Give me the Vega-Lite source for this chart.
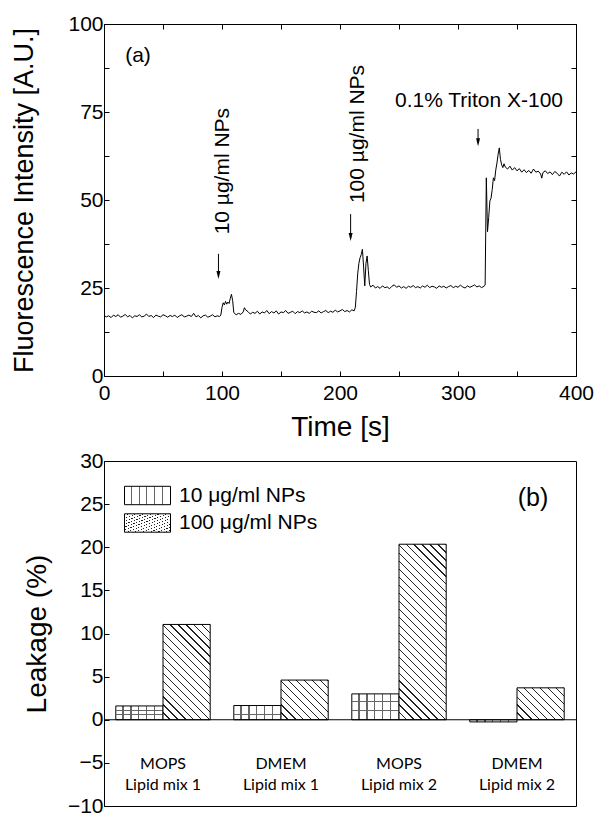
{
  "$schema": "https://vega.github.io/schema/vega-lite/v6.json",
  "background": "white",
  "padding": {"left": 10, "top": 12, "right": 10, "bottom": 10},
  "config": {
    "view": {"stroke": "black", "strokeWidth": 1},
    "font": "Liberation Sans",
    "axis": {"labelFont": "Liberation Sans", "labelFontSize": 21, "labelColor": "black", "titleFont": "Liberation Sans", "titleFontWeight": "normal", "titleColor": "black", "domainColor": "black", "tickColor": "black", "grid": false, "tickSize": -5},
    "legend": {"title": null, "orient": "none", "symbolType": "M-1,-0.4H1V0.4H-1Z", "symbolSize": 2116, "symbolStrokeWidth": 1, "symbolStrokeColor": "black", "symbolOpacity": 1, "labelFont": "Liberation Sans", "labelFontSize": 21, "labelColor": "black", "labelOffset": 8, "labelLimit": 300}
  },
  "resolve": {"legend": {"stroke": "independent"}},
  "vconcat": [
    {
      "width": 472,
      "height": 352,
      "layer": [
        {
          "data": {"values": [
            {"t":0,"v":17.2},{"t":2,"v":16.8},{"t":4,"v":17.1},{"t":6,"v":16.6},{"t":8,"v":17.3},{"t":10,"v":16.9},{"t":12,"v":17.4},{"t":14,"v":16.7},{"t":16,"v":17.0},{"t":18,"v":17.5},
            {"t":20,"v":16.8},{"t":22,"v":17.2},{"t":24,"v":16.5},{"t":26,"v":17.1},{"t":28,"v":16.9},{"t":30,"v":17.4},{"t":32,"v":16.8},{"t":34,"v":17.0},{"t":36,"v":17.6},{"t":38,"v":16.9},
            {"t":40,"v":17.2},{"t":42,"v":16.6},{"t":44,"v":17.3},{"t":46,"v":17.0},{"t":48,"v":16.8},{"t":50,"v":17.4},{"t":52,"v":17.1},{"t":54,"v":16.7},{"t":56,"v":17.2},{"t":58,"v":16.9},
            {"t":60,"v":17.3},{"t":62,"v":16.6},{"t":64,"v":17.1},{"t":66,"v":17.4},{"t":68,"v":16.8},{"t":70,"v":17.0},{"t":72,"v":17.3},{"t":74,"v":16.9},{"t":76,"v":17.8},{"t":78,"v":16.8},
            {"t":80,"v":17.2},{"t":82,"v":16.5},{"t":84,"v":17.1},{"t":86,"v":17.3},{"t":88,"v":16.7},{"t":90,"v":17.0},{"t":92,"v":17.4},{"t":94,"v":16.8},{"t":96,"v":17.1},{"t":98,"v":16.9},
            {"t":99,"v":17.3},{"t":100,"v":19.5},{"t":101,"v":20.8},{"t":102,"v":20.2},{"t":103,"v":21.2},{"t":104,"v":20.4},{"t":105,"v":21.0},{"t":106,"v":20.6},{"t":107,"v":22.0},{"t":108,"v":23.2},
            {"t":109,"v":21.5},{"t":110,"v":18.0},{"t":112,"v":17.4},{"t":114,"v":17.8},{"t":116,"v":17.5},{"t":118,"v":18.2},{"t":119,"v":19.4},{"t":120,"v":18.8},{"t":122,"v":18.3},{"t":124,"v":17.6},
            {"t":126,"v":18.1},{"t":128,"v":17.8},{"t":130,"v":18.4},{"t":132,"v":17.6},{"t":134,"v":18.2},{"t":136,"v":17.9},{"t":138,"v":18.6},{"t":140,"v":17.7},{"t":142,"v":18.3},{"t":144,"v":17.9},
            {"t":146,"v":18.5},{"t":148,"v":17.6},{"t":150,"v":18.2},{"t":152,"v":18.0},{"t":154,"v":18.6},{"t":156,"v":17.8},{"t":158,"v":18.1},{"t":160,"v":18.4},{"t":162,"v":17.7},{"t":164,"v":18.3},
            {"t":166,"v":18.0},{"t":168,"v":18.5},{"t":170,"v":17.9},{"t":172,"v":18.2},{"t":174,"v":17.8},{"t":176,"v":18.4},{"t":178,"v":18.1},{"t":180,"v":18.0},{"t":182,"v":18.5},{"t":184,"v":17.9},
            {"t":186,"v":18.3},{"t":188,"v":18.6},{"t":190,"v":18.0},{"t":192,"v":18.4},{"t":194,"v":18.1},{"t":196,"v":18.7},{"t":198,"v":18.2},{"t":200,"v":18.5},{"t":202,"v":18.9},{"t":204,"v":18.3},
            {"t":206,"v":18.6},{"t":208,"v":18.2},{"t":210,"v":18.8},{"t":212,"v":18.5},{"t":213,"v":19.5},{"t":214,"v":24.0},{"t":215,"v":29.0},{"t":216,"v":32.0},{"t":217,"v":33.6},{"t":218,"v":34.5},
            {"t":219,"v":36.0},{"t":220,"v":31.0},{"t":221,"v":25.6},{"t":222,"v":32.0},{"t":223,"v":34.1},{"t":224,"v":30.0},{"t":225,"v":26.0},{"t":226,"v":25.3},{"t":228,"v":25.8},{"t":230,"v":25.0},
            {"t":232,"v":25.4},{"t":234,"v":24.9},{"t":236,"v":25.6},{"t":238,"v":25.1},{"t":240,"v":25.3},{"t":242,"v":24.8},{"t":244,"v":25.5},{"t":246,"v":25.9},{"t":248,"v":25.2},{"t":250,"v":25.6},
            {"t":252,"v":25.0},{"t":254,"v":25.4},{"t":256,"v":24.9},{"t":258,"v":25.5},{"t":260,"v":25.2},{"t":262,"v":25.7},{"t":264,"v":25.1},{"t":266,"v":25.4},{"t":268,"v":25.0},{"t":270,"v":25.6},
            {"t":272,"v":25.2},{"t":274,"v":25.8},{"t":276,"v":25.1},{"t":278,"v":25.5},{"t":280,"v":25.3},{"t":282,"v":24.9},{"t":284,"v":25.6},{"t":286,"v":25.2},{"t":288,"v":25.5},{"t":290,"v":25.0},
            {"t":292,"v":25.4},{"t":294,"v":25.7},{"t":296,"v":25.1},{"t":298,"v":25.5},{"t":300,"v":25.2},{"t":302,"v":25.8},{"t":304,"v":25.3},{"t":306,"v":25.0},{"t":308,"v":25.6},{"t":310,"v":25.2},
            {"t":312,"v":25.5},{"t":314,"v":25.9},{"t":316,"v":25.3},{"t":318,"v":25.6},{"t":320,"v":25.1},{"t":322,"v":25.5},{"t":323,"v":25.8},{"t":324,"v":56.3},{"t":325,"v":41.0},{"t":326,"v":45.0},
            {"t":327,"v":49.7},{"t":328,"v":50.5},{"t":329,"v":53.0},{"t":330,"v":56.3},{"t":331,"v":55.5},{"t":332,"v":58.5},{"t":333,"v":60.5},{"t":334,"v":63.0},{"t":335,"v":64.8},{"t":336,"v":61.5},
            {"t":337,"v":60.0},{"t":338,"v":59.2},{"t":339,"v":60.3},{"t":340,"v":59.4},{"t":342,"v":58.8},{"t":344,"v":59.6},{"t":346,"v":58.5},{"t":348,"v":59.2},{"t":350,"v":58.3},{"t":352,"v":58.9},
            {"t":354,"v":57.9},{"t":356,"v":58.6},{"t":358,"v":57.8},{"t":360,"v":58.4},{"t":362,"v":57.6},{"t":364,"v":58.8},{"t":366,"v":57.9},{"t":368,"v":58.2},{"t":370,"v":57.4},{"t":371,"v":56.2},
            {"t":372,"v":57.8},{"t":374,"v":58.3},{"t":376,"v":57.5},{"t":378,"v":58.0},{"t":380,"v":57.2},{"t":382,"v":58.1},{"t":384,"v":57.6},{"t":386,"v":56.8},{"t":388,"v":57.9},{"t":390,"v":57.3},
            {"t":392,"v":58.0},{"t":394,"v":57.1},{"t":396,"v":57.7},{"t":398,"v":57.4},{"t":400,"v":58.0}
          ]},
          "mark": {"type": "line", "color": "black", "strokeWidth": 1},
          "encoding": {
            "x": {"field": "t", "type": "quantitative", "scale": {"domain": [0, 400], "nice": false},
                  "axis": {"title": "Time [s]", "titleFontSize": 28, "titlePadding": 10, "values": [0,50,100,150,200,250,300,350,400], "labelExpr": "datum.value % 100 == 0 ? datum.label : ''", "labelPadding": 11, "labelFlush": false}},
            "y": {"field": "v", "type": "quantitative", "scale": {"domain": [0, 100], "nice": false},
                  "axis": {"title": "Fluorescence Intensity [A.U.]", "titleFontSize": 27, "titlePadding": 29, "values": [0,12.5,25,37.5,50,62.5,75,87.5,100], "labelExpr": "datum.value % 25 == 0 ? datum.label : ''", "labelPadding": 6}}
          }
        },
        {
          "data": {"values": [
            {"t": 97, "top": 34.7, "bot": 28.5},
            {"t": 209, "top": 46.0, "bot": 39.3},
            {"t": 317, "top": 70.2, "bot": 66.2}
          ]},
          "mark": {"type": "rule", "color": "black", "strokeWidth": 1},
          "encoding": {
            "x": {"field": "t", "type": "quantitative", "axis": {"orient": "top", "labels": false, "title": null, "values": [0,50,100,150,200,250,300,350,400]}},
            "y": {"field": "top", "type": "quantitative", "axis": {"orient": "right", "labels": false, "title": null, "values": [0,12.5,25,37.5,50,62.5,75,87.5,100]}},
            "y2": {"field": "bot"}
          }
        },
        {
          "data": {"values": [
            {"t": 97, "head": 28.7},
            {"t": 209, "head": 39.5},
            {"t": 317, "head": 66.4}
          ]},
          "mark": {"type": "point", "shape": "M-0.5,-1L0.5,-1L0,1Z", "size": 64, "filled": true, "color": "black", "opacity": 1},
          "encoding": {
            "x": {"field": "t", "type": "quantitative", "axis": null},
            "y": {"field": "head", "type": "quantitative", "axis": null}
          }
        },
        {
          "data": {"values": [
            {"t": 100.8, "v": 58.2, "label": "10 µg/ml NPs", "ang": 270},
            {"t": 215.3, "v": 68.75, "label": "100 µg/ml NPs", "ang": 270},
            {"t": 317.8, "v": 78.1, "label": "0.1% Triton X-100", "ang": 0},
            {"t": 28.8, "v": 91, "label": "(a)", "ang": 0}
          ]},
          "mark": {"type": "text", "font": "Liberation Sans", "fontSize": 21, "color": "black", "baseline": "middle", "align": "center"},
          "encoding": {
            "x": {"field": "t", "type": "quantitative", "axis": null},
            "y": {"field": "v", "type": "quantitative", "axis": null},
            "text": {"field": "label"},
            "angle": {"field": "ang", "type": "quantitative", "scale": null}
          }
        }
      ],
      "resolve": {"axis": {"x": "independent", "y": "independent"}}
    },
    {
      "width": 472,
      "height": 345,
      "data": {"values": [
        {"group": "MOPS Lipid mix 1", "conc": "10 μg/ml NPs", "value": 1.6},
        {"group": "MOPS Lipid mix 1", "conc": "100 μg/ml NPs", "value": 11.05},
        {"group": "DMEM Lipid mix 1", "conc": "10 μg/ml NPs", "value": 1.65},
        {"group": "DMEM Lipid mix 1", "conc": "100 μg/ml NPs", "value": 4.6},
        {"group": "MOPS Lipid mix 2", "conc": "10 μg/ml NPs", "value": 3.0},
        {"group": "MOPS Lipid mix 2", "conc": "100 μg/ml NPs", "value": 20.35},
        {"group": "DMEM Lipid mix 2", "conc": "10 μg/ml NPs", "value": -0.25},
        {"group": "DMEM Lipid mix 2", "conc": "100 μg/ml NPs", "value": 3.7}
      ]},
      "resolve": {"scale": {"stroke": "independent"}, "legend": {"stroke": "independent"}},
      "layer": [
        {
          "transform": [{"filter": "datum.conc == '10 μg/ml NPs'"}],
          "mark": {"type": "bar", "strokeWidth": 1,
            "fill": {"gradient": "linear", "x1": 0, "y1": 0, "x2": 1, "y2": 0, "stops": [
              {"offset": 0, "color": "#ffffff"}, {"offset": 0.14, "color": "#ffffff"}, {"offset": 0.14, "color": "#666666"}, {"offset": 0.1667, "color": "#666666"},
              {"offset": 0.1667, "color": "#ffffff"}, {"offset": 0.3067, "color": "#ffffff"}, {"offset": 0.3067, "color": "#666666"}, {"offset": 0.3333, "color": "#666666"},
              {"offset": 0.3333, "color": "#ffffff"}, {"offset": 0.4733, "color": "#ffffff"}, {"offset": 0.4733, "color": "#666666"}, {"offset": 0.5, "color": "#666666"},
              {"offset": 0.5, "color": "#ffffff"}, {"offset": 0.64, "color": "#ffffff"}, {"offset": 0.64, "color": "#666666"}, {"offset": 0.6667, "color": "#666666"},
              {"offset": 0.6667, "color": "#ffffff"}, {"offset": 0.8067, "color": "#ffffff"}, {"offset": 0.8067, "color": "#666666"}, {"offset": 0.8333, "color": "#666666"},
              {"offset": 0.8333, "color": "#ffffff"}, {"offset": 1, "color": "#ffffff"}
            ]}},
          "encoding": {
            "x": {"field": "group", "type": "nominal", "sort": null, "scale": {"domain": ["MOPS Lipid mix 1", "DMEM Lipid mix 1", "MOPS Lipid mix 2", "DMEM Lipid mix 2"], "paddingInner": 0.2, "paddingOuter": 0.1}, "axis": null},
            "xOffset": {"field": "conc", "type": "nominal", "scale": {"domain": ["10 μg/ml NPs", "100 μg/ml NPs"]}},
            "y": {"field": "value", "type": "quantitative", "scale": {"domain": [-10, 30], "nice": false},
                  "axis": {"title": "Leakage (%)", "titleFontSize": 28, "titlePadding": 16, "values": [-10,-7.5,-5,-2.5,0,2.5,5,7.5,10,12.5,15,17.5,20,22.5,25,27.5,30], "labelExpr": "datum.value % 5 == 0 ? datum.label : ''", "labelPadding": 6}},
            "stroke": {"field": "conc", "type": "nominal",
              "scale": {"domain": ["10 μg/ml NPs"], "range": ["black"]},
              "legend": {"legendX": 20, "legendY": 11,
                "encode": {"symbols": {"update": {"fill": {"value": {"gradient": "linear", "x1": 0, "y1": 0, "x2": 1, "y2": 0, "stops": [
                    {"offset": 0, "color": "#ffffff"}, {"offset": 0.14, "color": "#ffffff"}, {"offset": 0.14, "color": "#666666"}, {"offset": 0.1667, "color": "#666666"},
                    {"offset": 0.1667, "color": "#ffffff"}, {"offset": 0.3067, "color": "#ffffff"}, {"offset": 0.3067, "color": "#666666"}, {"offset": 0.3333, "color": "#666666"},
                    {"offset": 0.3333, "color": "#ffffff"}, {"offset": 0.4733, "color": "#ffffff"}, {"offset": 0.4733, "color": "#666666"}, {"offset": 0.5, "color": "#666666"},
                    {"offset": 0.5, "color": "#ffffff"}, {"offset": 0.64, "color": "#ffffff"}, {"offset": 0.64, "color": "#666666"}, {"offset": 0.6667, "color": "#666666"},
                    {"offset": 0.6667, "color": "#ffffff"}, {"offset": 0.8067, "color": "#ffffff"}, {"offset": 0.8067, "color": "#666666"}, {"offset": 0.8333, "color": "#666666"},
                    {"offset": 0.8333, "color": "#ffffff"}, {"offset": 1, "color": "#ffffff"}
                  ]}}, "stroke": {"value": "black"}, "strokeWidth": {"value": 1}}}}
              }
            }
          }
        },
        {
          "transform": [{"filter": "datum.conc == '10 μg/ml NPs'"}],
          "mark": {"type": "bar", "strokeWidth": 0,
            "fill": {"gradient": "linear", "x1": 0, "y1": 0, "x2": 0, "y2": 1, "stops": [
              {"offset": 0, "color": "rgba(255,255,255,0)"}, {"offset": 0.28, "color": "rgba(255,255,255,0)"}, {"offset": 0.28, "color": "#666666"}, {"offset": 0.3333, "color": "#666666"},
              {"offset": 0.3333, "color": "rgba(255,255,255,0)"}, {"offset": 0.6133, "color": "rgba(255,255,255,0)"}, {"offset": 0.6133, "color": "#666666"}, {"offset": 0.6667, "color": "#666666"},
              {"offset": 0.6667, "color": "rgba(255,255,255,0)"}, {"offset": 1, "color": "rgba(255,255,255,0)"}
            ]}},
          "encoding": {
            "x": {"field": "group", "type": "nominal", "sort": null},
            "xOffset": {"field": "conc", "type": "nominal"},
            "y": {"field": "value", "type": "quantitative"}
          }
        },
        {
          "transform": [{"filter": "datum.conc == '100 μg/ml NPs' && datum.group == 'MOPS Lipid mix 1'"}],
          "mark": {"type": "bar", "strokeWidth": 1,
            "fill": {"gradient": "linear", "x1": 0, "y1": 1, "x2": 0.5947, "y2": -0.2008, "stops": [
              {"offset":0,"color":"#fff"},{"offset":0.0472,"color":"#fff"},{"offset":0.0472,"color":"#222"},{"offset":0.0556,"color":"#222"},
              {"offset":0.0556,"color":"#fff"},{"offset":0.1028,"color":"#fff"},{"offset":0.1028,"color":"#222"},{"offset":0.1111,"color":"#222"},
              {"offset":0.1111,"color":"#fff"},{"offset":0.1583,"color":"#fff"},{"offset":0.1583,"color":"#222"},{"offset":0.1667,"color":"#222"},
              {"offset":0.1667,"color":"#fff"},{"offset":0.2139,"color":"#fff"},{"offset":0.2139,"color":"#222"},{"offset":0.2222,"color":"#222"},
              {"offset":0.2222,"color":"#fff"},{"offset":0.2694,"color":"#fff"},{"offset":0.2694,"color":"#222"},{"offset":0.2778,"color":"#222"},
              {"offset":0.2778,"color":"#fff"},{"offset":0.325,"color":"#fff"},{"offset":0.325,"color":"#222"},{"offset":0.3333,"color":"#222"},
              {"offset":0.3333,"color":"#fff"},{"offset":0.3806,"color":"#fff"},{"offset":0.3806,"color":"#222"},{"offset":0.3889,"color":"#222"},
              {"offset":0.3889,"color":"#fff"},{"offset":0.4361,"color":"#fff"},{"offset":0.4361,"color":"#222"},{"offset":0.4444,"color":"#222"},
              {"offset":0.4444,"color":"#fff"},{"offset":0.4917,"color":"#fff"},{"offset":0.4917,"color":"#222"},{"offset":0.5,"color":"#222"},
              {"offset":0.5,"color":"#fff"},{"offset":0.5472,"color":"#fff"},{"offset":0.5472,"color":"#222"},{"offset":0.5556,"color":"#222"},
              {"offset":0.5556,"color":"#fff"},{"offset":0.6028,"color":"#fff"},{"offset":0.6028,"color":"#222"},{"offset":0.6111,"color":"#222"},
              {"offset":0.6111,"color":"#fff"},{"offset":0.6583,"color":"#fff"},{"offset":0.6583,"color":"#222"},{"offset":0.6667,"color":"#222"},
              {"offset":0.6667,"color":"#fff"},{"offset":0.7139,"color":"#fff"},{"offset":0.7139,"color":"#222"},{"offset":0.7222,"color":"#222"},
              {"offset":0.7222,"color":"#fff"},{"offset":0.7694,"color":"#fff"},{"offset":0.7694,"color":"#222"},{"offset":0.7778,"color":"#222"},
              {"offset":0.7778,"color":"#fff"},{"offset":0.825,"color":"#fff"},{"offset":0.825,"color":"#222"},{"offset":0.8333,"color":"#222"},
              {"offset":0.8333,"color":"#fff"},{"offset":0.8806,"color":"#fff"},{"offset":0.8806,"color":"#222"},{"offset":0.8889,"color":"#222"},
              {"offset":0.8889,"color":"#fff"},{"offset":0.9361,"color":"#fff"},{"offset":0.9361,"color":"#222"},{"offset":0.9444,"color":"#222"},
              {"offset":0.9444,"color":"#fff"},{"offset":0.9917,"color":"#fff"},{"offset":0.9917,"color":"#222"},{"offset":1,"color":"#222"}
            ]}},
          "encoding": {
            "x": {"field": "group", "type": "nominal", "sort": null},
            "xOffset": {"field": "conc", "type": "nominal"},
            "y": {"field": "value", "type": "quantitative"},
            "stroke": {"field": "conc", "type": "nominal",
              "scale": {"domain": ["100 μg/ml NPs"], "range": ["black"]},
              "legend": {"legendX": 20, "legendY": 38.5,
                "encode": {"symbols": {"update": {"fill": {"value": {"gradient": "linear", "x1": 0, "y1": 1, "x2": 1.207, "y2": 0.517, "stops": [
                    {"offset":0,"color":"#fff"},{"offset":0.11,"color":"#fff"},{"offset":0.11,"color":"#222"},{"offset":0.1429,"color":"#222"},
                    {"offset":0.1429,"color":"#fff"},{"offset":0.2529,"color":"#fff"},{"offset":0.2529,"color":"#222"},{"offset":0.2857,"color":"#222"},
                    {"offset":0.2857,"color":"#fff"},{"offset":0.3957,"color":"#fff"},{"offset":0.3957,"color":"#222"},{"offset":0.4286,"color":"#222"},
                    {"offset":0.4286,"color":"#fff"},{"offset":0.5386,"color":"#fff"},{"offset":0.5386,"color":"#222"},{"offset":0.5714,"color":"#222"},
                    {"offset":0.5714,"color":"#fff"},{"offset":0.6814,"color":"#fff"},{"offset":0.6814,"color":"#222"},{"offset":0.7143,"color":"#222"},
                    {"offset":0.7143,"color":"#fff"},{"offset":0.8243,"color":"#fff"},{"offset":0.8243,"color":"#222"},{"offset":0.8571,"color":"#222"},
                    {"offset":0.8571,"color":"#fff"},{"offset":0.9671,"color":"#fff"},{"offset":0.9671,"color":"#222"},{"offset":1,"color":"#222"}
                  ]}}, "stroke": {"value": "black"}, "strokeWidth": {"value": 1}}}}
              }
            }
          }
        },
        {
          "transform": [{"filter": "datum.conc == '100 μg/ml NPs' && datum.group == 'DMEM Lipid mix 1'"}],
          "mark": {"type": "bar", "strokeWidth": 1, "stroke": "black",
            "fill": {"gradient": "linear", "x1": 0, "y1": 1, "x2": 1.0784, "y2": 0.093, "stops": [
              {"offset":0,"color":"#fff"},{"offset":0.0773,"color":"#fff"},{"offset":0.0773,"color":"#222"},{"offset":0.0909,"color":"#222"},
              {"offset":0.0909,"color":"#fff"},{"offset":0.1682,"color":"#fff"},{"offset":0.1682,"color":"#222"},{"offset":0.1818,"color":"#222"},
              {"offset":0.1818,"color":"#fff"},{"offset":0.2591,"color":"#fff"},{"offset":0.2591,"color":"#222"},{"offset":0.2727,"color":"#222"},
              {"offset":0.2727,"color":"#fff"},{"offset":0.35,"color":"#fff"},{"offset":0.35,"color":"#222"},{"offset":0.3636,"color":"#222"},
              {"offset":0.3636,"color":"#fff"},{"offset":0.4409,"color":"#fff"},{"offset":0.4409,"color":"#222"},{"offset":0.4545,"color":"#222"},
              {"offset":0.4545,"color":"#fff"},{"offset":0.5318,"color":"#fff"},{"offset":0.5318,"color":"#222"},{"offset":0.5455,"color":"#222"},
              {"offset":0.5455,"color":"#fff"},{"offset":0.6228,"color":"#fff"},{"offset":0.6228,"color":"#222"},{"offset":0.6364,"color":"#222"},
              {"offset":0.6364,"color":"#fff"},{"offset":0.7137,"color":"#fff"},{"offset":0.7137,"color":"#222"},{"offset":0.7273,"color":"#222"},
              {"offset":0.7273,"color":"#fff"},{"offset":0.8046,"color":"#fff"},{"offset":0.8046,"color":"#222"},{"offset":0.8182,"color":"#222"},
              {"offset":0.8182,"color":"#fff"},{"offset":0.8955,"color":"#fff"},{"offset":0.8955,"color":"#222"},{"offset":0.9091,"color":"#222"},
              {"offset":0.9091,"color":"#fff"},{"offset":0.9864,"color":"#fff"},{"offset":0.9864,"color":"#222"},{"offset":1,"color":"#222"}
            ]}},
          "encoding": {
            "x": {"field": "group", "type": "nominal", "sort": null},
            "xOffset": {"field": "conc", "type": "nominal"},
            "y": {"field": "value", "type": "quantitative"}
          }
        },
        {
          "transform": [{"filter": "datum.conc == '100 μg/ml NPs' && datum.group == 'MOPS Lipid mix 2'"}],
          "mark": {"type": "bar", "strokeWidth": 1, "stroke": "black",
            "fill": {"gradient": "linear", "x1": 0, "y1": 1, "x2": 0.3183, "y2": -0.1834, "stops": [
              {"offset":0,"color":"#fff"},{"offset":0.0304,"color":"#fff"},{"offset":0.0304,"color":"#222"},{"offset":0.0357,"color":"#222"},
              {"offset":0.0357,"color":"#fff"},{"offset":0.0661,"color":"#fff"},{"offset":0.0661,"color":"#222"},{"offset":0.0714,"color":"#222"},
              {"offset":0.0714,"color":"#fff"},{"offset":0.1018,"color":"#fff"},{"offset":0.1018,"color":"#222"},{"offset":0.1071,"color":"#222"},
              {"offset":0.1071,"color":"#fff"},{"offset":0.1375,"color":"#fff"},{"offset":0.1375,"color":"#222"},{"offset":0.1429,"color":"#222"},
              {"offset":0.1429,"color":"#fff"},{"offset":0.1733,"color":"#fff"},{"offset":0.1733,"color":"#222"},{"offset":0.1786,"color":"#222"},
              {"offset":0.1786,"color":"#fff"},{"offset":0.209,"color":"#fff"},{"offset":0.209,"color":"#222"},{"offset":0.2143,"color":"#222"},
              {"offset":0.2143,"color":"#fff"},{"offset":0.2447,"color":"#fff"},{"offset":0.2447,"color":"#222"},{"offset":0.25,"color":"#222"},
              {"offset":0.25,"color":"#fff"},{"offset":0.2804,"color":"#fff"},{"offset":0.2804,"color":"#222"},{"offset":0.2857,"color":"#222"},
              {"offset":0.2857,"color":"#fff"},{"offset":0.3161,"color":"#fff"},{"offset":0.3161,"color":"#222"},{"offset":0.3214,"color":"#222"},
              {"offset":0.3214,"color":"#fff"},{"offset":0.3518,"color":"#fff"},{"offset":0.3518,"color":"#222"},{"offset":0.3571,"color":"#222"},
              {"offset":0.3571,"color":"#fff"},{"offset":0.3875,"color":"#fff"},{"offset":0.3875,"color":"#222"},{"offset":0.3929,"color":"#222"},
              {"offset":0.3929,"color":"#fff"},{"offset":0.4233,"color":"#fff"},{"offset":0.4233,"color":"#222"},{"offset":0.4286,"color":"#222"},
              {"offset":0.4286,"color":"#fff"},{"offset":0.459,"color":"#fff"},{"offset":0.459,"color":"#222"},{"offset":0.4643,"color":"#222"},
              {"offset":0.4643,"color":"#fff"},{"offset":0.4947,"color":"#fff"},{"offset":0.4947,"color":"#222"},{"offset":0.5,"color":"#222"},
              {"offset":0.5,"color":"#fff"},{"offset":0.5304,"color":"#fff"},{"offset":0.5304,"color":"#222"},{"offset":0.5357,"color":"#222"},
              {"offset":0.5357,"color":"#fff"},{"offset":0.5661,"color":"#fff"},{"offset":0.5661,"color":"#222"},{"offset":0.5714,"color":"#222"},
              {"offset":0.5714,"color":"#fff"},{"offset":0.6018,"color":"#fff"},{"offset":0.6018,"color":"#222"},{"offset":0.6071,"color":"#222"},
              {"offset":0.6071,"color":"#fff"},{"offset":0.6375,"color":"#fff"},{"offset":0.6375,"color":"#222"},{"offset":0.6429,"color":"#222"},
              {"offset":0.6429,"color":"#fff"},{"offset":0.6733,"color":"#fff"},{"offset":0.6733,"color":"#222"},{"offset":0.6786,"color":"#222"},
              {"offset":0.6786,"color":"#fff"},{"offset":0.709,"color":"#fff"},{"offset":0.709,"color":"#222"},{"offset":0.7143,"color":"#222"},
              {"offset":0.7143,"color":"#fff"},{"offset":0.7447,"color":"#fff"},{"offset":0.7447,"color":"#222"},{"offset":0.75,"color":"#222"},
              {"offset":0.75,"color":"#fff"},{"offset":0.7804,"color":"#fff"},{"offset":0.7804,"color":"#222"},{"offset":0.7857,"color":"#222"},
              {"offset":0.7857,"color":"#fff"},{"offset":0.8161,"color":"#fff"},{"offset":0.8161,"color":"#222"},{"offset":0.8214,"color":"#222"},
              {"offset":0.8214,"color":"#fff"},{"offset":0.8518,"color":"#fff"},{"offset":0.8518,"color":"#222"},{"offset":0.8571,"color":"#222"},
              {"offset":0.8571,"color":"#fff"},{"offset":0.8875,"color":"#fff"},{"offset":0.8875,"color":"#222"},{"offset":0.8929,"color":"#222"},
              {"offset":0.8929,"color":"#fff"},{"offset":0.9233,"color":"#fff"},{"offset":0.9233,"color":"#222"},{"offset":0.9286,"color":"#222"},
              {"offset":0.9286,"color":"#fff"},{"offset":0.959,"color":"#fff"},{"offset":0.959,"color":"#222"},{"offset":0.9643,"color":"#222"},
              {"offset":0.9643,"color":"#fff"},{"offset":0.9947,"color":"#fff"},{"offset":0.9947,"color":"#222"},{"offset":1,"color":"#222"}
            ]}},
          "encoding": {
            "x": {"field": "group", "type": "nominal", "sort": null},
            "xOffset": {"field": "conc", "type": "nominal"},
            "y": {"field": "value", "type": "quantitative"}
          }
        },
        {
          "transform": [{"filter": "datum.conc == '100 μg/ml NPs' && datum.group == 'DMEM Lipid mix 2'"}],
          "mark": {"type": "bar", "strokeWidth": 1, "stroke": "black",
            "fill": {"gradient": "linear", "x1": 0, "y1": 1, "x2": 1.1504, "y2": 0.2225, "stops": [
              {"offset":0,"color":"#fff"},{"offset":0.085,"color":"#fff"},{"offset":0.085,"color":"#222"},{"offset":0.1,"color":"#222"},
              {"offset":0.1,"color":"#fff"},{"offset":0.185,"color":"#fff"},{"offset":0.185,"color":"#222"},{"offset":0.2,"color":"#222"},
              {"offset":0.2,"color":"#fff"},{"offset":0.285,"color":"#fff"},{"offset":0.285,"color":"#222"},{"offset":0.3,"color":"#222"},
              {"offset":0.3,"color":"#fff"},{"offset":0.385,"color":"#fff"},{"offset":0.385,"color":"#222"},{"offset":0.4,"color":"#222"},
              {"offset":0.4,"color":"#fff"},{"offset":0.485,"color":"#fff"},{"offset":0.485,"color":"#222"},{"offset":0.5,"color":"#222"},
              {"offset":0.5,"color":"#fff"},{"offset":0.585,"color":"#fff"},{"offset":0.585,"color":"#222"},{"offset":0.6,"color":"#222"},
              {"offset":0.6,"color":"#fff"},{"offset":0.685,"color":"#fff"},{"offset":0.685,"color":"#222"},{"offset":0.7,"color":"#222"},
              {"offset":0.7,"color":"#fff"},{"offset":0.785,"color":"#fff"},{"offset":0.785,"color":"#222"},{"offset":0.8,"color":"#222"},
              {"offset":0.8,"color":"#fff"},{"offset":0.885,"color":"#fff"},{"offset":0.885,"color":"#222"},{"offset":0.9,"color":"#222"},
              {"offset":0.9,"color":"#fff"},{"offset":0.985,"color":"#fff"},{"offset":0.985,"color":"#222"},{"offset":1,"color":"#222"}
            ]}},
          "encoding": {
            "x": {"field": "group", "type": "nominal", "sort": null},
            "xOffset": {"field": "conc", "type": "nominal"},
            "y": {"field": "value", "type": "quantitative"}
          }
        },
        {
          "data": {"values": [{"z": 0}]},
          "mark": {"type": "rule", "color": "black", "strokeWidth": 1.2},
          "encoding": {"y": {"field": "z", "type": "quantitative"}}
        },
        {
          "data": {"values": [
            {"group": "MOPS Lipid mix 1", "lab": ["MOPS", "Lipid mix 1"]},
            {"group": "DMEM Lipid mix 1", "lab": ["DMEM", "Lipid mix 1"]},
            {"group": "MOPS Lipid mix 2", "lab": ["MOPS", "Lipid mix 2"]},
            {"group": "DMEM Lipid mix 2", "lab": ["DMEM", "Lipid mix 2"]}
          ]},
          "mark": {"type": "text", "font": "Lato", "fontSize": 16, "color": "black", "baseline": "middle", "align": "center", "lineHeight": 21},
          "encoding": {
            "x": {"field": "group", "type": "nominal", "sort": null},
            "y": {"datum": -5.15},
            "text": {"field": "lab"}
          }
        },
        {
          "data": {"values": [{"group": "DMEM Lipid mix 2", "y": 25.7, "label": "(b)"}]},
          "mark": {"type": "text", "font": "Liberation Sans", "fontSize": 25, "color": "black", "baseline": "middle", "align": "center", "dx": 16},
          "encoding": {
            "x": {"field": "group", "type": "nominal", "sort": null},
            "y": {"field": "y", "type": "quantitative"},
            "text": {"field": "label"}
          }
        }
      ]
    }
  ],
  "spacing": 85,
  "bounds": "flush"
}
